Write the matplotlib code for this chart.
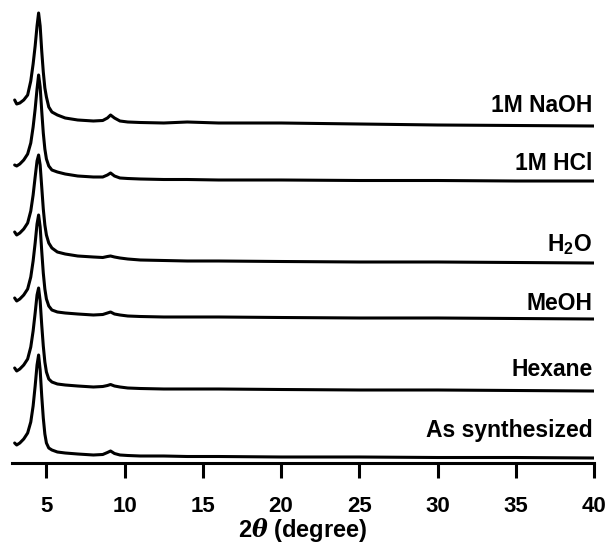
import numpy as np
import matplotlib.pyplot as plt

plt.rcParams['font.family'] = ['Liberation Sans', 'DejaVu Sans']
plt.rcParams['font.weight'] = 'bold'
plt.rcParams['mathtext.fontset'] = 'custom'
plt.rcParams['mathtext.rm'] = 'Liberation Sans:bold'
plt.rcParams['mathtext.bf'] = 'Liberation Sans:bold'
plt.rcParams['mathtext.it'] = 'DejaVu Serif:italic'

# 2theta grid
two_theta = [2.97, 3.1, 3.3, 3.55, 3.8, 4.0, 4.15, 4.28, 4.4, 4.5,
             4.6, 4.7, 4.8, 4.9, 5.0, 5.15, 5.35, 5.7, 6.2, 7.0,
             8.0, 8.6, 8.9, 9.1, 9.35, 9.7, 10.2, 11, 12.5, 14,
             16, 20, 25, 30, 35, 40]

naoh = [26, 22, 23, 26, 31, 45, 62, 80, 100, 113,
        100, 75, 54, 38, 29, 19, 14, 11, 8, 6,
        5, 5.5, 8, 11, 8, 5, 4, 3.5, 3, 4,
        3, 3, 2, 1, 0.5, 0]
hcl = [16, 15, 17, 21, 27, 38, 54, 72, 92, 106,
       94, 70, 48, 32, 22, 15, 11, 9, 7, 5,
       4, 4, 6, 8, 5, 3, 2.5, 2, 1.5, 1.5,
       1, 1, 0.5, 0.5, 0, 0]
h2o = [31, 28, 30, 34, 40, 52, 68, 86, 102, 108,
       98, 76, 54, 38, 28, 20, 15, 11, 9, 7,
       6, 5.5, 6.5, 7, 6, 5, 4, 3, 2.5, 2,
       2, 1.5, 1, 1, 0.5, 0]
meoh = [21, 18, 20, 24, 30, 42, 58, 76, 95, 104,
        92, 68, 46, 30, 20, 13, 9, 7, 6, 5,
        4, 4.5, 6, 7, 5, 4, 3, 2.5, 2, 2,
        2, 1.5, 1, 1, 0.5, 0]
hexane = [23, 20, 22, 26, 32, 44, 60, 78, 96, 103,
          90, 66, 45, 29, 19, 12, 9, 7, 6, 5,
          4, 4.5, 5.5, 6.5, 5, 4, 3, 2.5, 2, 2,
          2, 1.5, 1, 1, 0.5, 0]
as_synth = [15, 13, 15, 19, 25, 36, 52, 72, 93, 103,
            88, 62, 40, 24, 15, 10, 8, 6, 5, 4,
            3, 3.5, 5.5, 7, 4.5, 3, 2.5, 2, 2, 1.5,
            1.5, 1, 1, 0.5, 0.5, 0]

series = [naoh, hcl, h2o, meoh, hexane, as_synth]
names = ['1M NaOH', '1M HCl', r'H$_2$O', 'MeOH', 'Hexane', 'As synthesized']
offsets = [337, 282, 200, 144, 72, 5]
label_y = [358, 300, 218, 159, 93, 33]

fig = plt.figure(figsize=(6.11, 5.45), dpi=100)
ax = fig.add_axes([12/611, 82/545, 582/611, 458/545])

x = np.array(two_theta)
for s, off in zip(series, offsets):
    ax.plot(x, np.array(s) + off, color='black', lw=2.2,
            solid_capstyle='round', solid_joinstyle='round')

for name, ly in zip(names, label_y):
    ax.text(39.9, ly, name, ha='right', va='center', fontsize=16.5, fontweight='bold')

ax.set_xlim(2.8, 40)
ax.set_ylim(0, 458)
ax.set_xticks(np.arange(5, 41, 5))
ax.set_yticks([])
for side in ['left', 'top', 'right']:
    ax.spines[side].set_visible(False)
ax.spines['bottom'].set_linewidth(2.2)
ax.tick_params(axis='x', direction='out', length=11, width=2.2, pad=13, labelsize=16)
for t in ax.get_xticklabels():
    t.set_fontweight('bold')
ax.set_xlabel(r'2$\theta$ (degree)', fontsize=17, fontweight='bold', labelpad=-1)

fig.savefig('out.png', dpi=100)
